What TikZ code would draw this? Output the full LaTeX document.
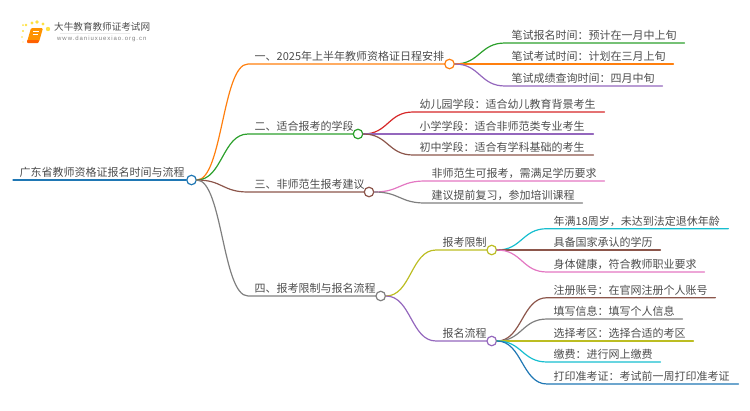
\documentclass[tikz,border=0pt]{standalone}
\usepackage{fontspec}
\usetikzlibrary{calc}
\setmainfont{Noto Sans CJK SC}
\newfontfamily\urlfont[LetterSpace=16]{Liberation Sans}
\definecolor{tblue}{HTML}{1F77B4}
\definecolor{torange}{HTML}{FF7F0E}
\definecolor{tgreen}{HTML}{2CA02C}
\definecolor{tred}{HTML}{D62728}
\definecolor{tpurple}{HTML}{9467BD}
\definecolor{tbrown}{HTML}{8C564B}
\definecolor{tpink}{HTML}{E377C2}
\definecolor{tgray}{HTML}{7F7F7F}
\definecolor{tolive}{HTML}{BCBD22}
\definecolor{tcyan}{HTML}{17BECF}
\definecolor{inktext}{HTML}{4D4D4D}
\tikzset{
  x=1pt,y=-1pt,
  topic/.style={anchor=south west,inner xsep=6.5pt,inner ysep=3.5pt,text height=10pt,text depth=0pt,
    font=\fontsize{11}{11}\selectfont,text=inktext,align=left},
  knob/.style={circle,draw=#1,fill=white,line width=1.2pt,minimum size=9.5pt,inner sep=0pt},
  wire/.style={draw=#1,line width=1.2pt,line cap=round},
}
% \leafnode{parent}{name}{xstart}{xend}{y}{colour}{text}
\newcommand{\leafnode}[7]{%
  \pgfmathsetmacro{\boxwidth}{#4-#3-13}
  \node[topic,text width=\boxwidth pt] (#2) at (#3,#5) {#7};
  \draw[wire=#6] (#1.east) .. controls ($(#1.east)!0.5!(#2.south west |- #1.east)$) and ($(#1.east |- #2.south west)!0.5!(#2.south west)$) .. (#2.south west) -- (#2.south east);
}
\begin{document}
\begin{tikzpicture}
\useasboundingbox (0,0) rectangle (750,410);
% logo
\foreach \a/\b/\r in {23/31/1.1,23/25/1,26/25/1.3,32/23/1.6,37/22/1.9,43/24/1.6,48/29/2.2,22/37/.9,23/42/.7}
  \fill[yellow!75!orange,opacity=.75] (\a,\b) circle[radius=\r];
\fill[orange!85!yellow,rounded corners=1.2pt] (31,28) -- (43,28) -- (39,42) -- (27,42) -- cycle;
\fill[orange!75!red,rounded corners=.8pt] (27,40) -- (39,40) -- (38.5,43) -- (27,43) -- cycle;
\draw[white,line width=.5pt] (33,31.5) -- (39,31.5) (32.5,34) -- (38,34);
\node[anchor=west,inner sep=0pt,font=\fontsize{9.6}{10}\selectfont,text=inktext] (brand) at (54,26.5) {大牛教育教师证考试网};
\fill[black!8] (60,33) rectangle (130,33.5);
\node[anchor=west,inner sep=0pt,font=\urlfont\fontsize{6}{7}\selectfont,text=gray] (site) at (57,39) {www.daniuxuexiao.org.cn};
% root
\node[topic,text width=162pt] (root) at (13,180) {广东省教师资格证报名时间与流程};
\node[knob=tblue] (rc) at (191.5,180) {};
\draw[wire=tblue] (root.south west) -- (rc.west);
% level 1
\leafnode{rc}{a}{248}{444.5}{64}{torange}{一、2025年上半年教师资格证日程安排}
\node[knob=torange] (ac) at (449.5,64) {};
\leafnode{rc}{b}{248}{353}{134}{tgreen}{二、适合报考的学段}
\node[knob=tgreen] (bc) at (358,134) {};
\leafnode{rc}{c}{248}{364}{192}{tbrown}{三、非师范生报考建议}
\node[knob=tbrown] (cc) at (369,192) {};
\leafnode{rc}{d}{248}{376}{296}{tgray}{四、报考限制与报名流程}
\node[knob=tgray] (dc) at (380.7,296) {};
% a
\leafnode{ac}{a1}{505}{684}{43}{tgreen}{笔试报名时间：预计在一月中上旬}
\leafnode{ac}{a2}{505}{673}{64}{torange}{笔试考试时间：计划在三月上旬}
\leafnode{ac}{a3}{505}{662}{86}{tpurple}{笔试成绩查询时间：四月中旬}
% b
\leafnode{bc}{b1}{413}{604}{112}{tred}{幼儿园学段：适合幼儿教育背景考生}
\leafnode{bc}{b2}{413}{593}{134}{tpurple}{小学学段：适合非师范类专业考生}
\leafnode{bc}{b3}{413}{593}{155}{tbrown}{初中学段：适合有学科基础的考生}
% c
\leafnode{cc}{c1}{425}{604}{181}{tpink}{非师范生可报考，需满足学历要求}
\leafnode{cc}{c2}{425}{582}{203}{tgray}{建议提前复习，参加培训课程}
% d
\leafnode{dc}{d1}{436}{487}{250}{tolive}{报考限制}
\node[knob=tolive] (d1c) at (491.7,250) {};
\leafnode{dc}{d2}{436}{487}{341}{tpurple}{报名流程}
\node[knob=tpurple] (d2c) at (491.7,341) {};
% d1
\leafnode{d1c}{e1}{547}{728}{228.7}{tcyan}{年满18周岁，未达到法定退休年龄}
\leafnode{d1c}{e2}{547}{660}{250}{tbrown}{具备国家承认的学历}
\leafnode{d1c}{e3}{547}{704}{272}{tpink}{身体健康，符合教师职业要求}
% d2
\leafnode{d2c}{f1}{547}{715}{297.7}{tbrown}{注册账号：在官网注册个人账号}
\leafnode{d2c}{f2}{547}{682}{319}{tgray}{填写信息：填写个人信息}
\leafnode{d2c}{f3}{547}{693}{341}{tolive}{选择考区：选择合适的考区}
\leafnode{d2c}{f4}{547}{660}{362}{tcyan}{缴费：进行网上缴费}
\leafnode{d2c}{f5}{547}{738}{384}{tblue}{打印准考证：考试前一周打印准考证}
\end{tikzpicture}
\end{document}
